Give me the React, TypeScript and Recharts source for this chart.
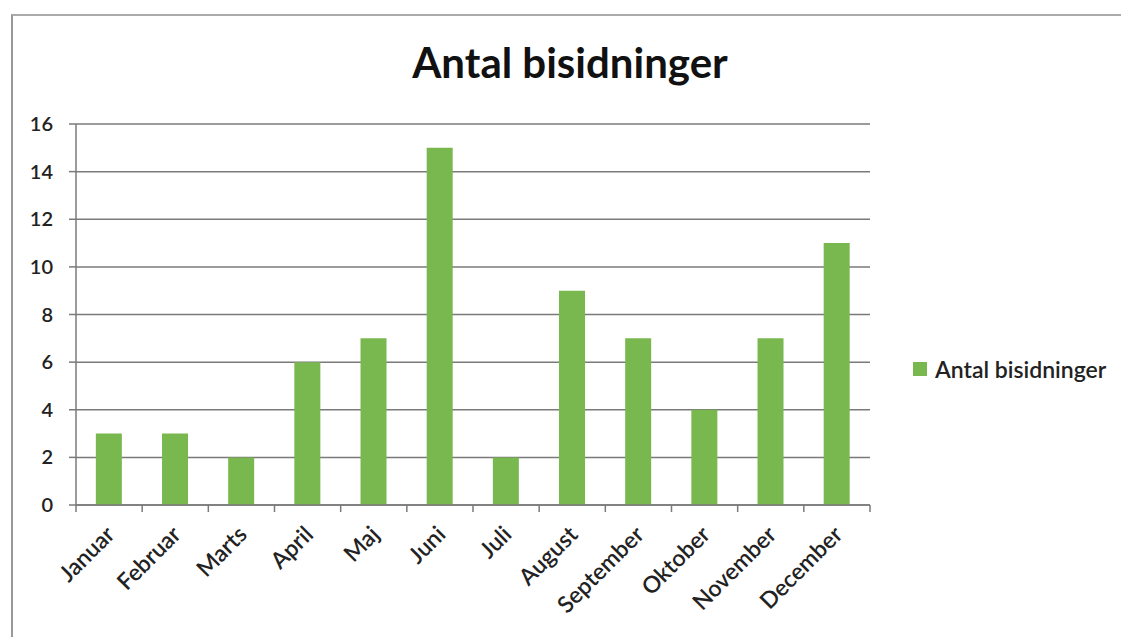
import React from "react";
import { BarChart, Bar, XAxis, YAxis, CartesianGrid } from "recharts";

const months = ["Januar", "Februar", "Marts", "April", "Maj", "Juni", "Juli", "August", "September", "Oktober", "November", "December"];
const counts = [3, 3, 2, 6, 7, 15, 2, 9, 7, 4, 7, 11];
const yTicks = [0, 2, 4, 6, 8, 10, 12, 14, 16];
const seriesName = "Antal bisidninger";
const title = "Antal bisidninger";

const data = months.map((m, i) => ({ month: m, value: counts[i] }));

const FONT = "Lato, 'Open Sans', sans-serif";
const GREEN = "#78b84e";
const GRID = "#7a7a7a";

const XTick = (props: any) => {
  const { x, y, payload, index, width } = props;
  const band = (width || 794) / months.length;
  const lines = [
    <line key="l" x1={x - band / 2} y1={y - 8} x2={x - band / 2} y2={y - 1} stroke={GRID} strokeWidth={1.5} />,
  ];
  if (index === months.length - 1) {
    lines.push(<line key="r" x1={x + band / 2} y1={y - 8} x2={x + band / 2} y2={y - 1} stroke={GRID} strokeWidth={1.5} />);
  }
  return (
    <g>
      {lines}
      <text
        x={x + 7}
        y={y + 23}
        textAnchor="end"
        transform={`rotate(-45, ${x + 7}, ${y + 23})`}
        fontFamily={FONT}
        fontSize={23}
        fontWeight={600}
        fill="#222"
      >
        {payload.value}
      </text>
    </g>
  );
};

export default function App() {
  return (
    <div style={{ position: "absolute", left: 0, top: 0, width: 1121, height: 637, background: "#fff" }}>
      <div style={{ position: "absolute", left: 11, top: 14, width: 1110, height: 623, borderLeft: "2px solid #999", borderTop: "2px solid #aaa" }} />
      <div
        style={{
          position: "absolute",
          left: 0,
          width: 1140,
          top: 37,
          textAlign: "center",
          fontFamily: FONT,
          fontWeight: 700,
          fontSize: 42,
          color: "#111",
        }}
      >
        {title}
      </div>
      <div style={{ position: "absolute", left: 0, top: 0 }}>
        <BarChart width={1121} height={637} data={data} margin={{ top: 124, right: 251, left: 20, bottom: 72 }} barCategoryGap="30%">
          <CartesianGrid vertical={false} stroke={GRID} strokeWidth={1.5} />
          <XAxis
            dataKey="month"
            height={60}
            interval={0}
            tickLine={false}
            axisLine={{ stroke: GRID, strokeWidth: 1.5 }}
            tick={<XTick />}
          />
          <YAxis
            width={56}
            domain={[0, 16]}
            ticks={yTicks}
            interval={0}
            tickSize={7}
            tickMargin={16}
            axisLine={{ stroke: GRID, strokeWidth: 1.5 }}
            tickLine={{ stroke: GRID, strokeWidth: 1.5 }}
            tick={{ fontFamily: FONT, fontSize: 20, fontWeight: 600, fill: "#222" }}
          />
          <Bar dataKey="value" name={seriesName} fill={GREEN} isAnimationActive={false} />
        </BarChart>
      </div>
      <div
        style={{
          position: "absolute",
          left: 913,
          top: 355,
          display: "flex",
          alignItems: "center",
          fontFamily: FONT,
          fontSize: 23,
          fontWeight: 600,
          color: "#222",
          whiteSpace: "nowrap",
        }}
      >
        <span style={{ display: "inline-block", width: 14, height: 14, background: GREEN, marginRight: 8 }} />
        <span>{seriesName}</span>
      </div>
    </div>
  );
}
